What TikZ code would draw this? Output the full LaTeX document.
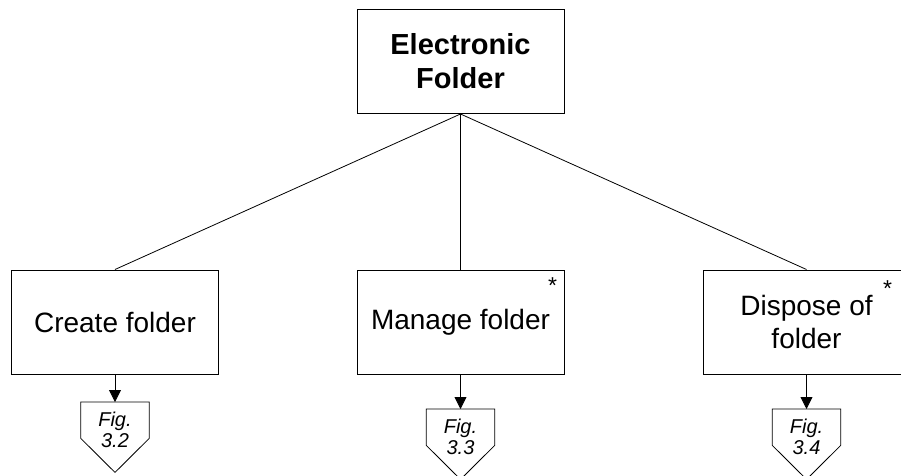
\documentclass[tikz,border=0pt]{standalone}
\usepackage{fontspec}
\setmainfont{Liberation Sans}
\usetikzlibrary{arrows.meta}
\begin{document}
\begin{tikzpicture} [x=1pt, y=-1pt, >={Triangle[length=12pt, width=12pt]},
		box/.style = {draw, line width=1pt, minimum width=207pt, minimum height=104pt, inner sep=0pt, align=center, font=\fontsize{28}{33}\selectfont},
		figref/.style = {minimum width=68pt, minimum height=70pt, inner sep=0pt, text depth=15pt, anchor=north, align=center, font=\fontsize{20}{21}\selectfont\itshape},
		star/.style = {font=\fontsize{23}{23}\selectfont, inner sep=0pt, anchor=north}]
		%\draw [thin, help lines] (0,0) grid [step=50] (901,475);
		\useasboundingbox (0,0) rectangle (901,475);
		\node [box, font=\fontsize{29}{34}\selectfont\bfseries] (folder) at (460.5,61.5) {Electronic\\Folder};
		\node [box] (create) at (115,322) {Create folder};
		\node [box] (manage) at (460.5,322) {Manage folder};
		\node [box] (dispose) at (806.5,322) {Dispose of\\folder};
		\node [star] (star1) at ([xshift=-12pt, yshift=-8pt]manage.north east) {*};
		\node [star] (star2) at ([xshift=-23pt, yshift=-11pt]dispose.north east) {*};
		\draw [line width=0.8pt] (folder.south) -- (create.north);
		\draw [line width=0.8pt] (folder.south) -- (manage.north);
		\draw [line width=0.8pt] (folder.south) -- (dispose.north);
		\node [figref] (fig1) at (115,402) {Fig.\\3.2};
		\node [figref] (fig2) at (460.5,409) {Fig.\\3.3};
		\node [figref] (fig3) at (806.5,409) {Fig.\\3.4};
		\foreach \f in {fig1,fig2,fig3}
			\draw [line width=0.8pt] (\f.north west) -- (\f.north east) -- ([yshift=34pt]\f.south east) -- (\f.south) -- ([yshift=34pt]\f.south west) -- cycle;
		\draw [->, line width=0.8pt] (create.south) -- (fig1.north);
		\draw [->, line width=0.8pt] (manage.south) -- (fig2.north);
		\draw [->, line width=0.8pt] (dispose.south) -- (fig3.north);
	\end{tikzpicture}
\end{document}
